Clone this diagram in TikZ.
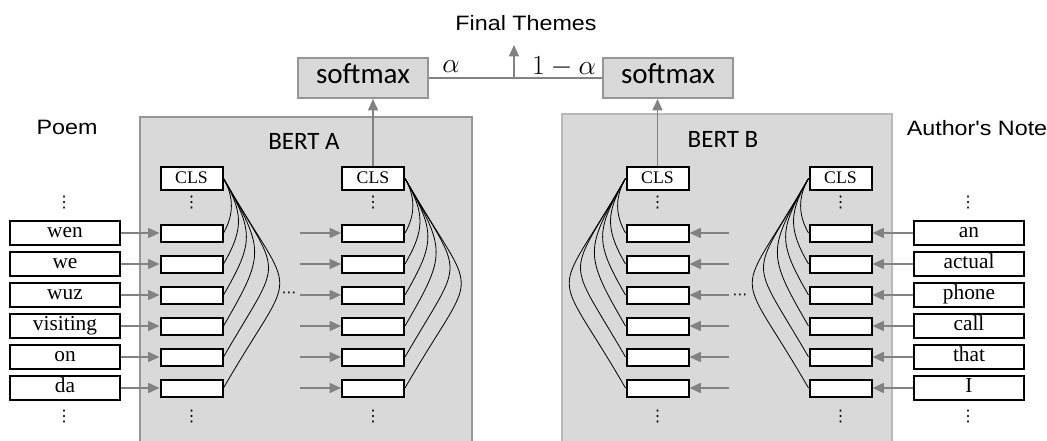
\documentclass[tikz,border=0pt]{standalone}
\usepackage{fontspec}
\setmainfont{Liberation Serif}
\newfontfamily\headfont[FakeStretch=1.12]{Liberation Sans}
\newfontfamily\calfont{Carlito}
\newfontfamily\symfont{DejaVu Sans}
\usetikzlibrary{arrows.meta}
\definecolor{panelfill}{RGB}{217,217,217}
\definecolor{panelA}{RGB}{150,150,150}
\definecolor{panelB}{RGB}{185,185,185}
\definecolor{arrowgray}{RGB}{130,130,130}
\tikzset{
  panel/.style={fill=panelfill, line width=1.5pt, inner sep=0pt, anchor=north west,
    minimum height=247.5pt},
  smbox/.style={fill=panelfill, draw=panelA, line width=1.5pt, inner sep=0pt,
    minimum width=97.5pt, minimum height=30pt,
    font=\calfont\fontsize{21.75}{24}\selectfont, text height=0.95em, text depth=0.075em},
  tok/.style={draw=black, line width=1.5pt, fill=white, inner sep=0pt,
    minimum width=82.5pt, minimum height=18pt,
    font=\fontsize{16}{18}\selectfont, text height=0.8em, text depth=0.18em},
  cell/.style={draw=black, line width=1.5pt, fill=white, inner sep=0pt,
    minimum width=46.5pt, minimum height=12.75pt},
  cls/.style={cell, minimum height=17.25pt,
    font=\fontsize{13.3}{15}\selectfont, text height=0.74em, text depth=0pt},
  garrow/.style={draw=arrowgray, line width=1.1pt,
    -{Triangle[length=8.5pt, width=7.5pt]}},
  gline/.style={draw=arrowgray, line width=1.1pt},
  attn/.style={draw=black, line width=0.6pt},
  vd/.style={inner sep=0pt, font=\symfont\fontsize{12}{14}\selectfont},
  hd/.style={inner sep=0pt, font=\symfont\fontsize{11}{13}\selectfont},
  headlbl/.style={inner sep=0pt, anchor=base, font=\headfont\fontsize{15.6}{18}\selectfont},
  bertlbl/.style={inner sep=0pt, anchor=base, font=\calfont\fontsize{18.75}{21}\selectfont},
  mathlbl/.style={inner sep=0pt, font=\fontsize{19.5}{22}\selectfont},
}
\begin{document}
\begin{tikzpicture}[x=0.75pt, y=-0.75pt]
\useasboundingbox (0,0) rectangle (1047,440);

% the two encoder panels
\node[panel, draw=panelA, minimum width=249pt] (bertA) at (139,116) {};
\node[panel, draw=panelB, minimum width=247.5pt] (bertB) at (561,113) {};
\node[bertlbl] (bertAlbl) at (304,149) {BERT A};
\node[bertlbl] (bertBlbl) at (723,147) {BERT B};

% side labels and output
\node[headlbl] (poem) at (67,134) {Poem};
\node[headlbl] (note) at (977,135) {Author's Note};
\node[headlbl] (final) at (526,30) {Final Themes};

% softmax heads and their weighted combination
\node[smbox] (smA) at (363,78) {softmax};
\node[smbox] (smB) at (668,78) {softmax};
\draw[gline] (smA.east) -- (smB.west);
\coordinate (join) at (514,78);
\coordinate (finaltip) at (514,45);
\draw[garrow] (join) -- (finaltip);
\node[mathlbl] (alpha) at (451,67) {$\alpha$};
\node[mathlbl] (oneminus) at (564,67) {$1-\alpha$};

% CLS cells
\node[cls] (clsA1) at (191.5,178.5) {CLS};
\node[cls] (clsA2) at (373,178.5) {CLS};
\node[cls] (clsB1) at (657.5,178.5) {CLS};
\node[cls] (clsB2) at (840.5,178.5) {CLS};
\draw[garrow] (clsA2.north) -- (clsA2.north |- smA.south);
\draw[garrow] (clsB1.north) -- (clsB1.north |- smB.south);

% poem tokens into BERT A
\foreach \w/\a [count=\i from 0] in {wen/21, we/40, wuz/61, visiting/83, on/120, da/150} {
  \node[tok] (pa\i) at (65,{233+31*\i}) {\w};
  \node[cell] (a1\i) at (191.5,{233+31*\i}) {};
  \node[cell] (a2\i) at (373,{233+31*\i}) {};
  \coordinate (a2in\i) at (300,{233+31*\i});
  \draw[garrow] (pa\i) -- (a1\i);
  \draw[garrow] (a2in\i) -- (a2\i);
  \draw[attn] (clsA1.east) .. controls +(60:\a) and +(-60:\a) .. (a1\i.east);
  \draw[attn] (clsA2.east) .. controls +(60:\a) and +(-60:\a) .. (a2\i.east);
}

% note tokens into BERT B
\foreach \w/\a [count=\i from 0] in {an/21, actual/40, phone/61, call/83, that/120, I/150} {
  \node[tok] (pb\i) at (969,{233+31*\i}) {\w};
  \node[cell] (b2\i) at (840.5,{233+31*\i}) {};
  \node[cell] (b1\i) at (657.5,{233+31*\i}) {};
  \coordinate (b1in\i) at (729,{233+31*\i});
  \draw[garrow] (pb\i) -- (b2\i);
  \draw[garrow] (b1in\i) -- (b1\i);
  \draw[attn] (clsB1.west) .. controls +(120:\a) and +(-120:\a) .. (b1\i.west);
  \draw[attn] (clsB2.west) .. controls +(120:\a) and +(-120:\a) .. (b2\i.west);
}

% elided layers
\node[hd] (hdotsA) at (289,295) {⋯};
\node[hd] (hdotsB) at (740,297) {⋯};

% elided sequence positions
\foreach \n/\x in {pt/64, at1/191.5, at2/373, bt1/657.5, bt2/840.5, qt/968} {
  \node[vd] (top\n) at (\x,203) {⋮};
  \node[vd] (bot\n) at (\x,417) {⋮};
}
\end{tikzpicture}
\end{document}
